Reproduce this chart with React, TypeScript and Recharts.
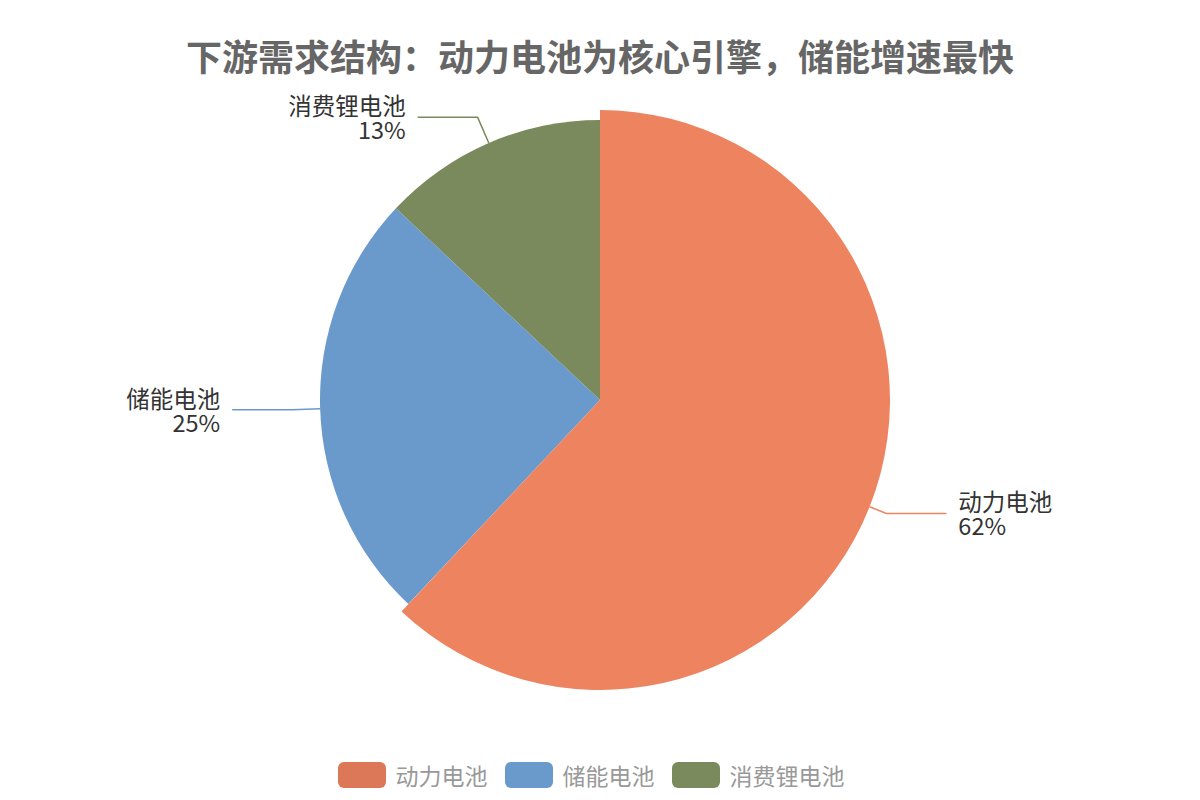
import React from "react";
import { PieChart, Pie, Cell, Legend } from "recharts";

const categories = ["动力电池", "储能电池", "消费锂电池"];
const shares = [62, 25, 13];
const sliceColors = ["#EE835F", "#6A9ACB", "#7A8A5C"];
const legendColors = ["#DC7757", "#6A9ACB", "#7A8A5C"];
const titleText = "下游需求结构：动力电池为核心引擎，储能增速最快";

const data = categories.map((name, i) => ({ name, value: shares[i] }));

const FONT = '"Noto Sans CJK SC", "Noto Sans", sans-serif';
const RADIAN = Math.PI / 180;

const renderLabel = (props: any) => {
  const { cx, cy, midAngle, index, name, value } = props;
  const r0 = index === 0 ? 290 : 280;
  const r1 = 308;
  const cos = Math.cos(-midAngle * RADIAN);
  const sin = Math.sin(-midAngle * RADIAN);
  const x0 = cx + r0 * cos;
  const y0 = cy + r0 * sin;
  const x1 = cx + r1 * cos;
  const y1 = cy + r1 * sin;
  const dir = cos >= 0 ? 1 : -1;
  const x2 = x1 + dir * 60;
  const tx = x2 + dir * 12;
  const anchor = dir > 0 ? "start" : "end";
  return (
    <g>
      <polyline
        points={`${x0},${y0} ${x1},${y1} ${x2},${y1}`}
        fill="none"
        stroke={sliceColors[index]}
        strokeWidth={1.5}
      />
      <text
        x={tx}
        y={y1 - 12}
        textAnchor={anchor}
        dominantBaseline="central"
        fill="#333"
        fontSize={23.5}
        fontFamily={FONT}
      >
        {name}
      </text>
      <text
        x={tx}
        y={y1 + 12}
        textAnchor={anchor}
        dominantBaseline="central"
        fill="#333"
        fontSize={23.5}
        fontFamily={FONT}
      >
        {`${value}%`}
      </text>
    </g>
  );
};

const LegendContent = () => (
  <div
    style={{
      display: "flex",
      justifyContent: "center",
      alignItems: "center",
      fontFamily: FONT,
      fontSize: 23,
      color: "#999",
    }}
  >
    {categories.map((c, i) => (
      <div key={c} style={{ display: "flex", alignItems: "center", marginRight: i < categories.length - 1 ? 17 : 0 }}>
        <div
          style={{
            width: 48,
            height: 26,
            borderRadius: 6,
            background: legendColors[i],
            marginRight: 10,
          }}
        />
        <span style={{ lineHeight: "26px" }}>{c}</span>
      </div>
    ))}
  </div>
);

export default function App() {
  return (
    <div style={{ position: "absolute", left: 0, top: 0, width: 1200, height: 800, background: "#fff" }}>
      <div
        style={{
          position: "absolute",
          left: 0,
          top: 34,
          width: 1200,
          textAlign: "center",
          fontFamily: FONT,
          fontWeight: 700,
          fontSize: 36,
          lineHeight: "42px",
          color: "#666",
        }}
      >
        {titleText}
      </div>
      <PieChart width={1200} height={800} margin={{ top: 0, right: 0, bottom: 0, left: 0 }}>
        <Pie
          data={data}
          dataKey="value"
          nameKey="name"
          cx={600}
          cy={400}
          outerRadius={280}
          startAngle={90}
          endAngle={-270}
          stroke="none"
          isAnimationActive={false}
          labelLine={false}
          label={renderLabel}
        >
          {data.map((d, i) => (
            <Cell key={d.name} fill={i === 0 ? "transparent" : sliceColors[i]} stroke="none" />
          ))}
        </Pie>
        <Pie
          data={data}
          dataKey="value"
          nameKey="name"
          cx={600}
          cy={400}
          outerRadius={290}
          startAngle={90}
          endAngle={-270}
          stroke="none"
          isAnimationActive={false}
          labelLine={false}
          label={false}
          legendType="none"
        >
          {data.map((d, i) => (
            <Cell key={d.name} fill={i === 0 ? sliceColors[0] : "transparent"} stroke="none" />
          ))}
        </Pie>
        <Legend
          content={<LegendContent />}
          wrapperStyle={{ position: "absolute", top: 762, left: -9, width: 1200, height: 26 }}
        />
      </PieChart>
    </div>
  );
}
